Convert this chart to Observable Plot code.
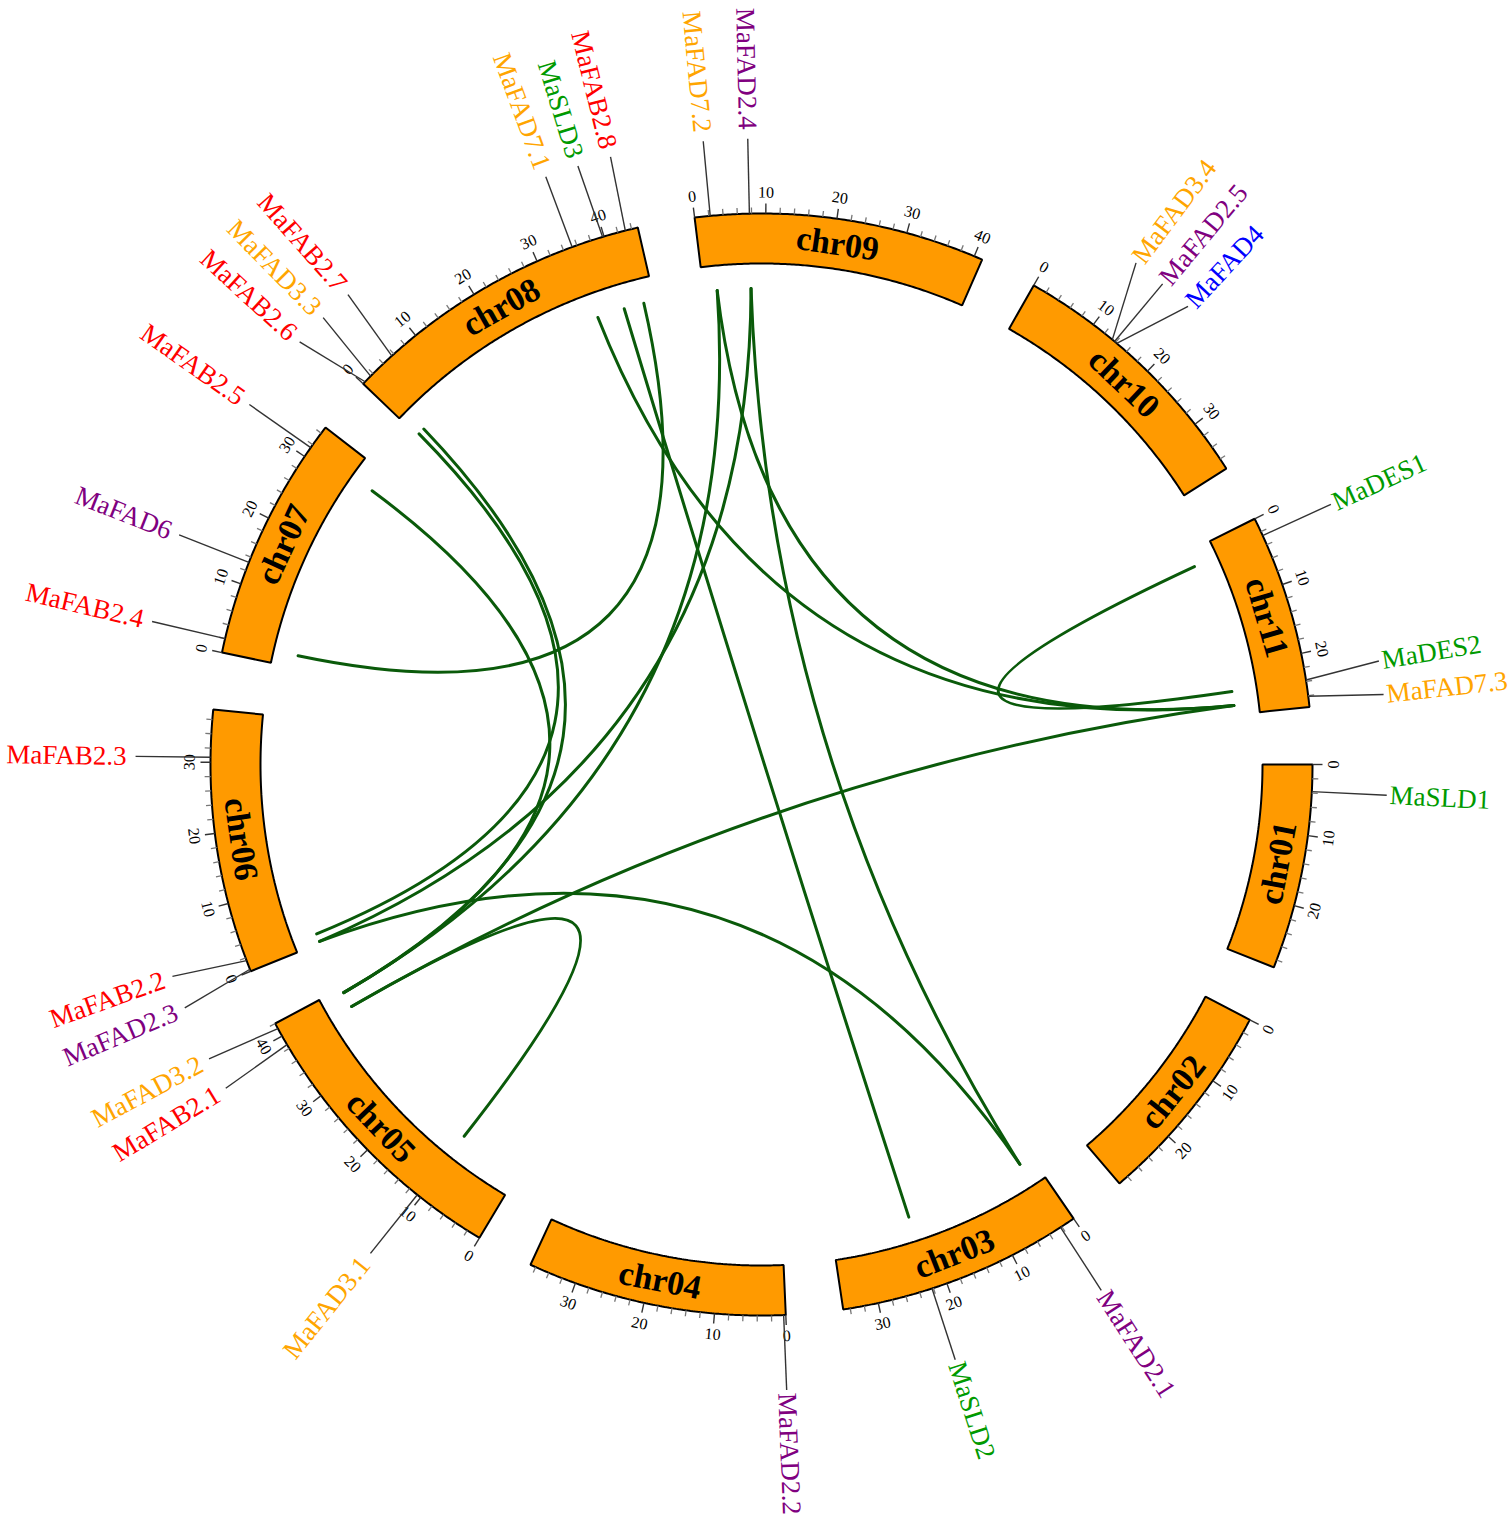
<!DOCTYPE html>
<html>
<head>
<meta charset="utf-8">
<script src="https://cdn.jsdelivr.net/npm/d3@7"></script>
<script src="https://cdn.jsdelivr.net/npm/@observablehq/plot@0.6"></script>
<style>
  html, body { margin: 0; padding: 0; background: #fff; }
  svg { display: block; }
</style>
</head>
<body>
<div id="chart"></div>
<script>
// ---------------- data ----------------
const chromosomes  = ["chr01","chr02","chr03","chr04","chr05","chr06","chr07","chr08","chr09","chr10","chr11"];
const chromLengths = [29.1, 29.5, 35.0, 36.8, 42.0, 37.4, 35.0, 44.9, 41.2, 37.6, 27.6]; // Mb

const geneNames = ["MaSLD1","MaFAD2.1","MaSLD2","MaFAD2.2","MaFAD3.1","MaFAB2.1","MaFAD3.2",
  "MaFAD2.3","MaFAB2.2","MaFAB2.3","MaFAB2.4","MaFAD6","MaFAB2.5","MaFAB2.6","MaFAD3.3",
  "MaFAB2.7","MaFAD7.1","MaSLD3","MaFAB2.8","MaFAD7.2","MaFAD2.4","MaFAD3.4","MaFAD2.5",
  "MaFAD4","MaDES1","MaDES2","MaFAD7.3"];
const geneChroms = ["chr01","chr03","chr03","chr04","chr05","chr05","chr05",
  "chr06","chr06","chr06","chr07","chr07","chr07","chr08","chr08",
  "chr08","chr08","chr08","chr08","chr09","chr09","chr10","chr10",
  "chr10","chr11","chr11","chr11"];
const genePositions = [3.8, 2.2, 22.2, 0.3, 10.6, 38.6, 41.2,
  0.3, 1.6, 30.7, 2.0, 13.2, 31.5, 0.4, 1.5,
  5.6, 35.3, 39.8, 43.1, 2.2, 7.7, 13.4, 13.8,
  14.2, 2.6, 23.8, 26.1];

const linkFrom = ["MaFAB2.4","MaFAB2.5","MaFAB2.6","MaFAD3.3","MaFAD7.1","MaSLD3","MaFAD7.2",
  "MaFAD7.2","MaFAD2.4","MaFAD2.4","MaFAD2.3","MaFAD7.3","MaDES1","MaFAD3.1"];
const linkTo   = ["MaFAB2.8","MaFAD3.2","MaFAB2.2","MaFAD3.2","MaFAD7.3","MaSLD2","MaFAD7.3",
  "MaFAD3.2","MaFAD2.3","MaFAD2.1","MaFAD2.1","MaFAB2.1","MaDES2","MaFAB2.1"];

const families     = ["FAB","FAD2","FAD3","FAD4","FAD6","FAD7","SLD","DES"];
const familyColors = ["#ff0000","#800080","#ffa500","#0000ff","#800080","#ffa500","#009a00","#009a00"];

const majorStep = 10, minorStep = 2;

// ---------------- layout ----------------
const W = 1510, H = 1519;
const CX = 761, CY = 764, R_OUT = 551, R_IN = 501, R_LINK = 476;
const GAP = 6, MINSEP = 3.1, PULL = 0.05;

const total = d3.sum(chromLengths);
const k = (360 - GAP * chromosomes.length) / total;
const chrStart = new Map(), chrLen = new Map();
let acc = 90;
chromosomes.forEach((c, i) => { chrStart.set(c, acc); chrLen.set(c, chromLengths[i]); acc += chromLengths[i] * k + GAP; });
const ang = (c, p) => chrStart.get(c) + p * k;
const rad = a => a * Math.PI / 180;
const px = (a, r) => CX + r * Math.sin(rad(a));
const py = (a, r) => CY - r * Math.cos(rad(a));
const norm = a => ((a % 360) + 360) % 360;
const tangentRot = a => { const t = norm(a); return (t > 90 && t < 270) ? t - 180 : t; };

// bands
const bandPts = [];
chromosomes.forEach(c => {
  const a0 = chrStart.get(c), a1 = a0 + chrLen.get(c) * k;
  const n = Math.ceil((a1 - a0) / 0.25);
  for (let i = 0; i <= n; i++) { const a = a0 + (a1 - a0) * i / n; bandPts.push({chr: c, x: px(a, R_OUT), y: py(a, R_OUT)}); }
  for (let i = n; i >= 0; i--) { const a = a0 + (a1 - a0) * i / n; bandPts.push({chr: c, x: px(a, R_IN), y: py(a, R_IN)}); }
});

// chromosome labels
const chrLabels = chromosomes.map(c => {
  const a = chrStart.get(c) + chrLen.get(c) * k / 2, r = (R_OUT + R_IN) / 2;
  return {name: c, x: px(a, r), y: py(a, r), rot: tangentRot(a)};
});

// ticks
const ticks = [], tickLabels = [];
chromosomes.forEach(c => {
  for (let v = 0; v <= chrLen.get(c) + 1e-9; v += minorStep) {
    const a = ang(c, v), major = v % majorStep === 0, len = major ? 10 : 6;
    ticks.push({major, x1: px(a, R_OUT), y1: py(a, R_OUT), x2: px(a, R_OUT + len), y2: py(a, R_OUT + len)});
    if (major) tickLabels.push({text: String(v), x: px(a, R_OUT + 21), y: py(a, R_OUT + 21), rot: tangentRot(a)});
  }
});

// genes + label spreading
const famOf = n => n.startsWith("MaFAD") ? n.slice(2, 6) : n.slice(2, 5);
const genes = geneNames.map((n, i) => {
  const a = ang(geneChroms[i], genePositions[i]);
  return {name: n, fam: famOf(n), a, la: a};
});
const sorted = genes.slice().sort((p, q) => p.a - q.a);
for (let it = 0; it < 400; it++) {
  for (let i = 0; i < sorted.length - 1; i++) {
    const p = sorted[i], q = sorted[i + 1], d = q.la - p.la;
    if (d < MINSEP) { const s = (MINSEP - d) / 2; p.la -= s; q.la += s; }
  }
}
genes.forEach(g => {
  const t = norm(g.la);
  g.right = t > 0 && t < 180;
  const rt = g.right ? R_OUT + 78 : R_OUT + 84;
  g.tx = px(g.la, rt); g.ty = py(g.la, rt);
  g.rot = g.right ? t - 90 : t - 270;
});

// links (quadratic Bézier through a control point near the centre)
const geneByName = new Map(genes.map(g => [g.name, g]));
const linkPts = [];
linkFrom.forEach((f, i) => {
  const g1 = geneByName.get(f), g2 = geneByName.get(linkTo[i]);
  const x0 = px(g1.a, R_LINK), y0 = py(g1.a, R_LINK), x2 = px(g2.a, R_LINK), y2 = py(g2.a, R_LINK);
  const mx = (x0 + x2) / 2, my = (y0 + y2) / 2;
  linkPts.push({id: i, x: x0, y: y0}, {id: i, x: CX + PULL * (mx - CX), y: CY + PULL * (my - CY)}, {id: i, x: x2, y: y2});
});
function quadratic(context) {
  let pts = [];
  return {
    areaStart() {}, areaEnd() {},
    lineStart() { pts = []; },
    point(x, y) { pts.push([+x, +y]); },
    lineEnd() {
      if (pts.length >= 3) {
        context.moveTo(pts[0][0], pts[0][1]);
        context.quadraticCurveTo(pts[1][0], pts[1][1], pts[2][0], pts[2][1]);
      }
    }
  };
}

const FONT = "'Liberation Serif', 'Times New Roman', serif";

const chart = Plot.plot({
  width: W, height: H, margin: 0,
  x: {domain: [0, W], range: [0, W], axis: null},
  y: {domain: [0, H], range: [0, H], axis: null},
  color: {domain: families, range: familyColors},
  style: {fontFamily: FONT, background: "#fff"},
  marks: [
    Plot.line(linkPts, {x: "x", y: "y", z: "id", curve: quadratic, stroke: "#0a5a0a", strokeWidth: 3, fill: "none"}),
    Plot.line(bandPts, {x: "x", y: "y", z: "chr", curve: "linear-closed", fill: "#ff9a00", stroke: "#000", strokeWidth: 2, strokeLinejoin: "miter"}),
    Plot.link(ticks.filter(d => !d.major), {x1: "x1", y1: "y1", x2: "x2", y2: "y2", stroke: "#777", strokeWidth: 1.3}),
    Plot.link(ticks.filter(d => d.major), {x1: "x1", y1: "y1", x2: "x2", y2: "y2", stroke: "#333", strokeWidth: 1.4}),
    Plot.text(tickLabels, {x: "x", y: "y", text: "text", rotate: "rot", fontSize: 16, fill: "#000", textAnchor: "middle", lineAnchor: "middle", fontFamily: FONT}),
    Plot.text(chrLabels, {x: "x", y: "y", text: "name", rotate: "rot", fontSize: 34, fontWeight: "bold", fill: "#000", textAnchor: "middle", lineAnchor: "middle", fontFamily: FONT}),
    Plot.link(genes, {x1: g => px(g.a, R_OUT), y1: g => py(g.a, R_OUT), x2: g => px(g.la, R_OUT + 75), y2: g => py(g.la, R_OUT + 75), stroke: "#333", strokeWidth: 1.4}),
    Plot.text(genes.filter(g => g.right), {x: "tx", y: "ty", text: "name", rotate: "rot", fill: "fam", fontSize: 27, textAnchor: "start", lineAnchor: "middle", fontFamily: FONT}),
    Plot.text(genes.filter(g => !g.right), {x: "tx", y: "ty", text: "name", rotate: "rot", fill: "fam", fontSize: 27, textAnchor: "end", lineAnchor: "middle", fontFamily: FONT})
  ]
});
document.getElementById("chart").appendChild(chart);
</script>
</body>
</html>
